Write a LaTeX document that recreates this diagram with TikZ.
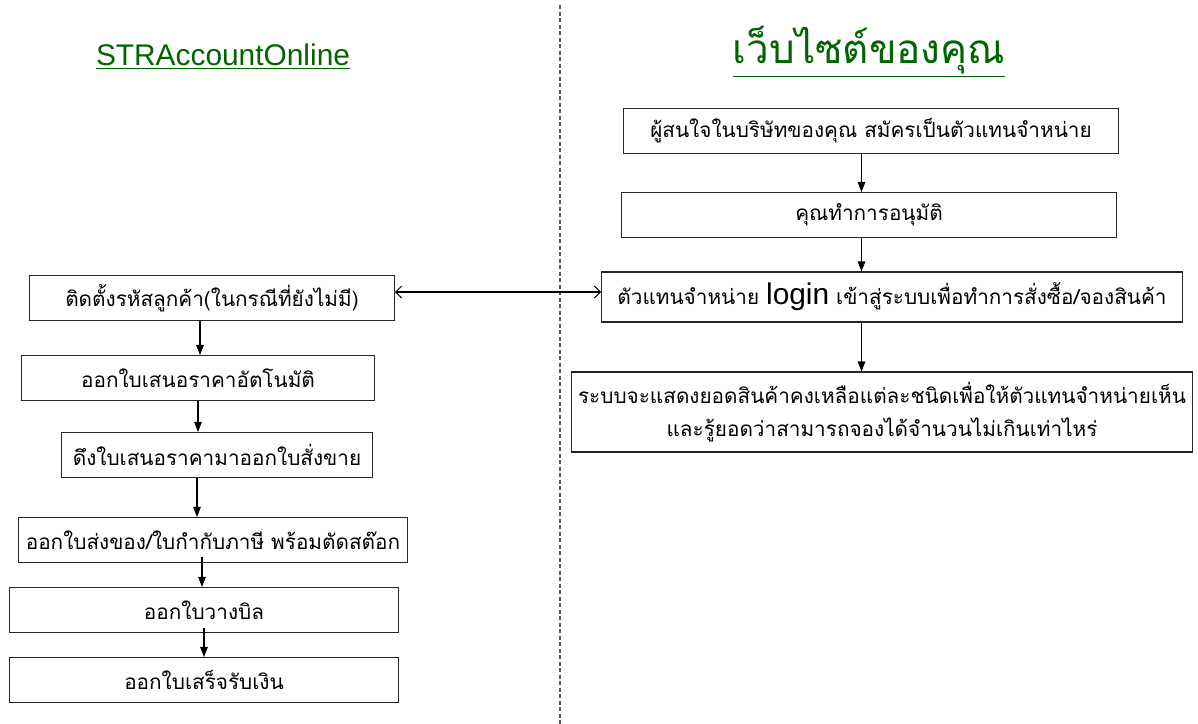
\documentclass[tikz,border=0pt]{standalone}
\usepackage{fontspec}
\setmainfont{Liberation Sans}
\newfontfamily\thaifont[Script=Thai]{Loma}
\newfontfamily\latinfont{Liberation Sans}
\usetikzlibrary{arrows.meta,positioning}
\definecolor{titlegreen}{RGB}{0,100,0}

\begin{document}
\begin{tikzpicture}[x=0.02cm,y=-0.02cm]
% Define styles
\tikzstyle{stepbox} = [rectangle, draw=black!85, line width=0.6pt, minimum height=0.9cm, inner sep=2pt, text centered, font=\thaifont\fontsize{11.8}{19}\selectfont]
\tikzstyle{heading} = [text=titlegreen, inner sep=0pt]
\tikzstyle{arrow} = [line width=0.6pt, -{Triangle[length=0.2cm,width=0.15cm]}]
\tikzstyle{link} = [line width=0.6pt, {Straight Barb[length=0.12cm,width=0.24cm]}-{Straight Barb[length=0.12cm,width=0.24cm]}]

\useasboundingbox (0,0) rectangle (1198,724);

% Divider
\draw [black!65, line width=0.9pt, dash pattern=on 2.5pt off 1.2pt] (560,5) -- (560,724);

% Headings
\node (lefttitle) [heading, font=\fontsize{17}{20}\selectfont] at (223,57) {\underline{STRAccountOnline}};
\node (righttitle) [heading, font=\thaifont\fontsize{23}{28}\selectfont] at (869,52) {\underline{เว็บไซต์ของคุณ}};

% Left column
\node (code) [stepbox, minimum width=7.3cm] at (212,298) {ติดตั้งรหัสลูกค้า(ในกรณีที่ยังไม่มี)};
\node (quote) [stepbox, minimum width=7.08cm] at (198,378) {ออกใบเสนอราคาอัตโนมัติ};
\node (pull) [stepbox, minimum width=6.22cm] at (217,455) {ดึงใบเสนอราคามาออกใบสั่งขาย};
\node (ship) [stepbox, minimum width=7.8cm] at (213,540) {ออกใบส่งของ/ใบกำกับภาษี พร้อมตัดสต๊อก};
\node (bill) [stepbox, minimum width=7.78cm] at (204,610) {ออกใบวางบิล};
\node (receipt) [stepbox, minimum width=7.78cm] at (204,680) {ออกใบเสร็จรับเงิน};

% Right column
\node (apply) [stepbox, minimum width=9.9cm] at (871,131) {ผู้สนใจในบริษัทของคุณ สมัครเป็นตัวแทนจำหน่าย};
\node (approve) [stepbox, minimum width=9.9cm] at (869,215) {คุณทำการอนุมัติ};
\node (login) [stepbox, minimum width=11.62cm, minimum height=1cm] at (892,297) {ตัวแทนจำหน่าย {\latinfont\fontsize{17}{20}\selectfont login} เข้าสู่ระบบเพื่อทำการสั่งซื้อ/จองสินค้า};
\node (stock) [stepbox, minimum width=12.42cm, minimum height=1.6cm, align=center] at (882,412) {ระบบจะแสดงยอดสินค้าคงเหลือแต่ละชนิดเพื่อให้ตัวแทนจำหน่ายเห็น\\และรู้ยอดว่าสามารถจองได้จำนวนไม่เกินเท่าไหร่};

% Draw arrows
\draw [arrow] ([xshift=-0.24cm]code.south) -- ([xshift=-0.24cm]code.south |- quote.north);
\draw [arrow] (quote.south) -- (quote.south |- pull.north);
\draw [arrow] ([xshift=-0.4cm]pull.south) -- ([xshift=-0.4cm]pull.south |- ship.north);
\draw [arrow] ([xshift=-0.22cm,yshift=0.12cm]ship.south) -- ([xshift=-0.22cm]ship.south |- bill.north);
\draw [arrow] ([yshift=0.1cm]bill.south) -- (bill.south |- receipt.north);
\draw [arrow] ([xshift=-0.19cm]apply.south) -- ([xshift=-0.19cm]apply.south |- approve.north);
\draw [arrow] ([xshift=-0.15cm]approve.south) -- ([xshift=-0.15cm]approve.south |- login.north);
\draw [arrow] ([xshift=-0.61cm]login.south) -- ([xshift=-0.61cm]login.south |- stock.north);
\draw [link] ([yshift=0.12cm]code.east) -- ([yshift=0.12cm]code.east -| login.west);
\end{tikzpicture}
\end{document}
